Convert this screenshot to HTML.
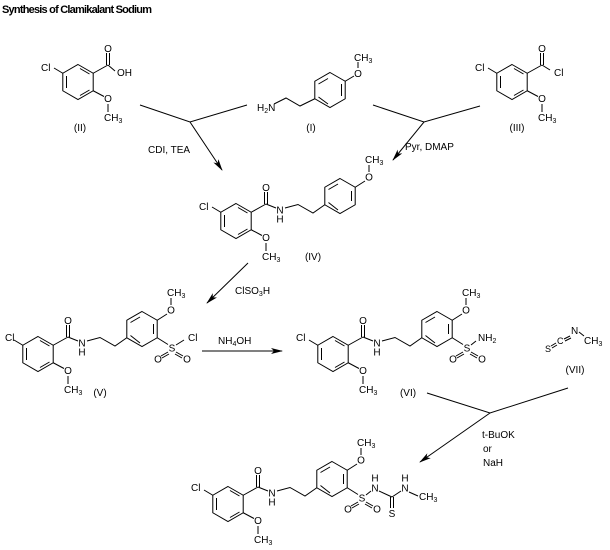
<!DOCTYPE html>
<html><head><meta charset="utf-8"><style>
html,body{margin:0;padding:0;background:#fff;}
svg{display:block;}
text{font-family:"Liberation Sans",sans-serif;font-size:10px;fill:#000;}
.m{text-anchor:middle;}
.s{font-size:7px;}
</style></head><body>
<svg width="610" height="550" viewBox="0 0 610 550" xmlns="http://www.w3.org/2000/svg">
<defs>
<marker id="ah" markerWidth="12" markerHeight="8" refX="11" refY="4" orient="auto" markerUnits="userSpaceOnUse">
<path d="M0,1 L12,4 L0,7 L3,4 Z" fill="#000"/>
</marker>
<g id="R1" fill="none" stroke="#000" stroke-width="1">
<polygon points="0,-17.5 15.2,-8.75 15.2,8.75 0,17.5 -15.2,8.75 -15.2,-8.75"/>
<path d="M-11.5,-6 L-11.5,6 M2,-13.5 L11.5,-8 M11.5,8 L2,13.5 M-15.2,-8.75 L-24,-14 M15.2,-8.75 L30,-17 M28.5,-17 L28.5,-29 M31.5,-17 L31.5,-29 M15.2,8.75 L26,14.5 M30,22 L30,30"/>
</g>
<g id="B" fill="none" stroke="#000" stroke-width="1">
<path d="M30,-17 L40,-13 M49,-13 L62,-16.5 L77,-8 L88.8,-16.25"/>
<polygon points="104,-42.5 119.2,-33.75 119.2,-16.25 104,-7.5 88.8,-16.25 88.8,-33.75"/>
<path d="M92.5,-31.5 L102,-37 M115.5,-30 L115.5,-20 M102,-11 L92.5,-18.5 M119.2,-33.75 L129,-40 M133,-49 L133,-56"/>
</g>
<g id="SO" fill="none" stroke="#000" stroke-width="1">
<path d="M119.2,-16.25 L130,-9.5 M130,-2 L123,2 M131,0 L124,4 M138,-2 L145,2 M137,0 L144,4"/>
</g>
</defs>

<text x="2" y="13" style="font-weight:bold;font-size:11px" textLength="150">Synthesis of Clamikalant Sodium</text>

<!-- (II) -->
<use href="#R1" x="78" y="82"/>
<g transform="translate(78,82)">
<text x="-37" y="-11">Cl</text>
<text x="30" y="-30" class="m">O</text>
<text x="30" y="20" class="m">O</text>
<text x="26" y="39">CH<tspan class="s" dy="2">3</tspan></text>
<line x1="30" y1="-17" x2="37" y2="-11" stroke="#000"/>
<text x="39" y="-6">OH</text>
</g>
<text x="80" y="131" class="m">(II)</text>

<!-- (I) -->
<g fill="none" stroke="#000">
<polygon points="330,72.5 345.2,81.25 345.2,98.75 330,107.5 314.8,98.75 314.8,81.25"/>
<path d="M318.5,84 L328,78.5 M341.5,84 L341.5,96 M328,104 L318.5,97 M274,104 L286,98 L300,106 L314.8,98.75 M345.2,81.25 L354,76 M358,68 L358,62"/>
</g>
<text x="257" y="111">H<tspan class="s" dy="2">2</tspan><tspan dy="-2">N</tspan></text>
<text x="358" y="77" class="m">O</text>
<text x="354" y="61">CH<tspan class="s" dy="2">3</tspan></text>
<text x="311" y="131" class="m">(I)</text>

<!-- (III) -->
<use href="#R1" x="512" y="82"/>
<g transform="translate(512,82)">
<text x="-37" y="-11">Cl</text>
<text x="30" y="-30" class="m">O</text>
<text x="30" y="20" class="m">O</text>
<text x="26" y="39">CH<tspan class="s" dy="2">3</tspan></text>
<line x1="30" y1="-17" x2="38" y2="-12" stroke="#000"/>
<text x="42" y="-6">Cl</text>
</g>
<text x="517" y="131" class="m">(III)</text>

<!-- arrows top -->
<g fill="none" stroke="#000">
<polyline points="140,105 190,122 247,105"/>
<line x1="190" y1="122" x2="222" y2="170" marker-end="url(#ah)"/>
<polyline points="373,105 424,122 480,106"/>
<line x1="424" y1="122" x2="393" y2="160" marker-end="url(#ah)"/>
</g>
<text x="148" y="153">CDI, TEA</text>
<text x="405" y="150">Pyr, DMAP</text>

<!-- (IV) -->
<use href="#R1" x="236" y="221"/>
<use href="#B" x="236" y="221"/>
<g transform="translate(236,221)">
<text x="-37" y="-11">Cl</text>
<text x="30" y="-30" class="m">O</text>
<text x="30" y="20" class="m">O</text>
<text x="26" y="39">CH<tspan class="s" dy="2">3</tspan></text>
<text x="44" y="-7.5" class="m">N</text>
<text x="44" y="1.5" class="m">H</text>
<text x="133" y="-40.5" class="m">O</text>
<text x="129" y="-58">CH<tspan class="s" dy="2">3</tspan></text>
</g>
<text x="313" y="260" class="m">(IV)</text>

<line x1="248" y1="263" x2="207" y2="303" stroke="#000" marker-end="url(#ah)"/>
<text x="235" y="294">ClSO<tspan class="s" dy="2">3</tspan><tspan dy="-2">H</tspan></text>

<!-- (V) -->
<use href="#R1" x="38" y="354"/>
<use href="#B" x="38" y="354"/>
<use href="#SO" x="38" y="354"/>
<g transform="translate(38,354)">
<text x="-33" y="-13">Cl</text>
<text x="30" y="-30" class="m">O</text>
<text x="30" y="20" class="m">O</text>
<text x="26" y="39">CH<tspan class="s" dy="2">3</tspan></text>
<text x="44" y="-7.5" class="m">N</text>
<text x="44" y="1.5" class="m">H</text>
<text x="133" y="-40.5" class="m">O</text>
<text x="129" y="-58">CH<tspan class="s" dy="2">3</tspan></text>
<text x="134" y="-2.5" class="m">S</text>
<text x="120" y="8.5" class="m">O</text>
<text x="149" y="8.5" class="m">O</text>
<line x1="138" y1="-9" x2="146" y2="-14" stroke="#000"/>
<text x="150" y="-13">Cl</text>
</g>
<text x="100" y="396" class="m">(V)</text>

<line x1="202" y1="351" x2="282" y2="351" stroke="#000" marker-end="url(#ah)"/>
<text x="218" y="344">NH<tspan class="s" dy="2">4</tspan><tspan dy="-2">OH</tspan></text>

<!-- (VI) -->
<use href="#R1" x="333" y="354"/>
<use href="#B" x="333" y="354"/>
<use href="#SO" x="333" y="354"/>
<g transform="translate(333,354)">
<text x="-37" y="-13">Cl</text>
<text x="30" y="-30" class="m">O</text>
<text x="30" y="20" class="m">O</text>
<text x="26" y="39">CH<tspan class="s" dy="2">3</tspan></text>
<text x="44" y="-7.5" class="m">N</text>
<text x="44" y="1.5" class="m">H</text>
<text x="133" y="-40.5" class="m">O</text>
<text x="129" y="-58">CH<tspan class="s" dy="2">3</tspan></text>
<text x="134" y="-2.5" class="m">S</text>
<text x="120" y="8.5" class="m">O</text>
<text x="149" y="8.5" class="m">O</text>
<line x1="138" y1="-9" x2="143" y2="-13" stroke="#000"/>
<text x="145" y="-13">NH<tspan class="s" dy="2">2</tspan></text>
</g>
<text x="408" y="396" class="m">(VI)</text>

<!-- (VII) -->
<text x="545" y="352" style="font-size:9px">S</text>
<text x="557" y="344" style="font-size:9px">C</text>
<text x="571" y="334" style="font-size:10px">N</text>
<text x="584" y="344">CH<tspan class="s" dy="2">3</tspan></text>
<g stroke="#000" fill="none">
<path d="M551,346 L556,343 M552,348 L557,345 M564,339 L570,336 M565,341 L571,338 M579,332 L584,336"/>
</g>
<text x="575" y="373" class="m">(VII)</text>

<!-- bottom arrow -->
<g fill="none" stroke="#000">
<polyline points="427,393 490,413 568,388"/>
<line x1="490" y1="413" x2="420" y2="462" marker-end="url(#ah)"/>
</g>
<text x="482" y="438">t-BuOK</text>
<text x="483" y="452">or</text>
<text x="483" y="466">NaH</text>

<!-- final product -->
<use href="#R1" x="228" y="504"/>
<use href="#B" x="228" y="504"/>
<use href="#SO" x="228" y="504"/>
<g transform="translate(228,504)">
<text x="-37" y="-13">Cl</text>
<text x="30" y="-30" class="m">O</text>
<text x="30" y="20" class="m">O</text>
<text x="26" y="39">CH<tspan class="s" dy="2">3</tspan></text>
<text x="44" y="-7.5" class="m">N</text>
<text x="44" y="1.5" class="m">H</text>
<text x="133" y="-40.5" class="m">O</text>
<text x="129" y="-58">CH<tspan class="s" dy="2">3</tspan></text>
<text x="134" y="-2.5" class="m">S</text>
<text x="120" y="8.5" class="m">O</text>
<text x="149" y="8.5" class="m">O</text>
<g stroke="#000" fill="none">
<path d="M138,-9 L143,-13 M151,-13 L164,-7 M162.5,-7 L162.5,4 M165.5,-7 L165.5,4 M164,-7 L173,-13 M181,-12 L190,-8"/>
</g>
<text x="147" y="-12.5" class="m">N</text>
<text x="147" y="-22.5" class="m">H</text>
<text x="164" y="13" class="m">S</text>
<text x="177" y="-12.5" class="m">N</text>
<text x="177" y="-22.5" class="m">H</text>
<text x="191" y="-4">CH<tspan class="s" dy="2">3</tspan></text>
</g>
</svg>
</body></html>
